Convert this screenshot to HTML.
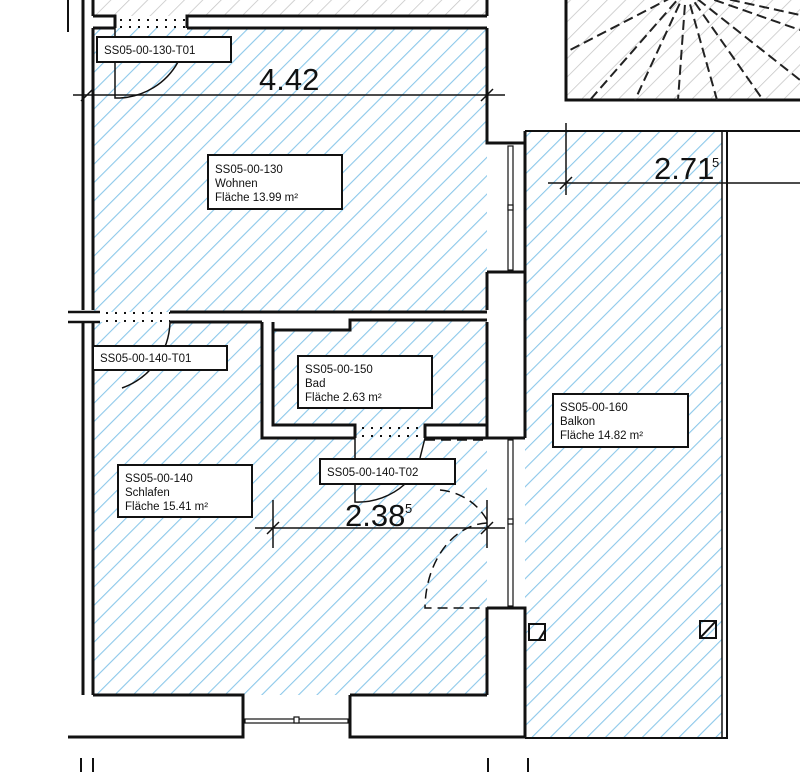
<!DOCTYPE html>
<html><head><meta charset="utf-8"><style>
html,body{margin:0;padding:0;background:#fff;}
svg{display:block;}
text{font-family:"Liberation Sans",sans-serif;fill:#111;}
</style></head><body>
<svg width="800" height="772" viewBox="0 0 800 772" xmlns="http://www.w3.org/2000/svg">
<defs>
<pattern id="h" width="13" height="13" patternUnits="userSpaceOnUse" patternTransform="rotate(45)">
<line x1="0" y1="0" x2="0" y2="13" stroke="#8cc8ea" stroke-width="2.2"/>
</pattern>
<pattern id="g" width="13" height="13" patternUnits="userSpaceOnUse" patternTransform="rotate(45)">
<line x1="0" y1="0" x2="0" y2="13" stroke="#c4c4c4" stroke-width="1.5"/>
</pattern>
</defs>
<rect x="93" y="0" width="394" height="16" fill="url(#g)"/>
<rect x="566" y="0" width="234" height="100" fill="url(#g)"/>
<rect x="93" y="28" width="394" height="284" fill="url(#h)"/>
<rect x="93" y="322" width="394" height="373" fill="url(#h)"/>
<rect x="525" y="131" width="197" height="607" fill="url(#h)"/>
<rect x="487" y="272" width="38" height="166" fill="#fff"/>
<rect x="487" y="608" width="38" height="130" fill="#fff"/>
<rect x="487" y="143" width="38" height="129" fill="#fff"/>
<rect x="487" y="438" width="38" height="170" fill="#fff"/>
<rect x="68" y="695" width="420" height="43" fill="#fff"/>
<path d="M262 318 H487 V438 H262 Z" fill="#fff"/>
<path d="M273 330 H350 V320 H487 V425 H273 Z" fill="url(#h)"/>
<rect x="355" y="425" width="70" height="13" fill="url(#h)"/>
<g fill="none" stroke="#111" stroke-width="3">
<path d="M93 16 H115 V28 M187 28 V16 H487"/>
<path d="M93 0 V16 M487 0 V16"/>
<path d="M93 28 H115 M187 28 H487"/>
<path d="M83 0 V310 M93 28 V310"/>
<path d="M83 322 V695 M93 322 V695" />
<path d="M68 0 V32" stroke-width="2"/>
<path d="M68 312 H100 M68 322 H100" stroke-width="2.5"/>
<path d="M487 28 V143 H525 M487 272 H525"/>
<path d="M487 272 V310"/>
<path d="M170 312 H487 M170 322 H262"/>
<path d="M262 322 V438 H355 M425 438 H487"/>
<path d="M273 322 V425 H355 V438 M425 438 V425 H487 M273 330 H350 V320 H487"/>
<path d="M487 322 V438"/>
<path d="M525 131 V438 M487 438 H525"/>
<path d="M487 608 H525 V738 M487 608 V695"/>
<path d="M93 695 H243 V737 H68 M350 695 V737 H525 M350 695 H487"/>
<path d="M525 131 H800 M525 738 H727 V131" stroke-width="2"/>
<path d="M722 131 V738" stroke-width="1.5"/>
<path d="M566 0 V100 H800"/>
</g>
<g stroke="#111" stroke-width="1.2" fill="none">
<rect x="508" y="146" width="5" height="124"/>
<rect x="508" y="440" width="5" height="166"/>
<rect x="245" y="719" width="103" height="4"/>
<rect x="508" y="205" width="5" height="5" fill="#fff"/>
<rect x="508" y="519" width="5" height="5" fill="#fff"/>
<rect x="294" y="717" width="5" height="6" fill="#fff"/>
</g>
<g stroke="#111" stroke-width="2" stroke-dasharray="2 7">
<path d="M120 20 H185 M120 27 H185"/>
<path d="M106 313 H170 M106 321 H170"/>
<path d="M362 428 H425 M362 436 H425"/>
</g>
<g fill="none" stroke="#111" stroke-width="1.5">
<path d="M115 28 V98 H120 A70 70 0 0 0 178 62"/>
<path d="M170 322 A72 72 0 0 1 122 388"/>
<path d="M355 438 V502 A70 70 0 0 0 405 484"/>
<path d="M425 438 L420 458"/>
</g>
<g fill="none" stroke="#111" stroke-width="1.5" stroke-dasharray="10 6">
<path d="M425 440 H487"/>
<path d="M487 523 A64 86 0 0 0 425 608 H487"/>
<path d="M440 490 A60 60 0 0 1 487 520"/>
</g>
<g fill="none" stroke="#222" stroke-width="2" stroke-dasharray="10 5">
<path d="M686 -10 L570 50 M686 -10 L590 100 M686 -10 L635 100 M686 -10 L678 100 M686 -10 L717 100 M686 -10 L763 100 M686 -10 L800 80 M686 -10 L800 30 M686 -10 L800 15"/>
</g>
<g stroke="#111" stroke-width="1.5">
<path d="M73 95 H505"/>
<path d="M81 101 L93 89 M481 101 L493 89"/>
<path d="M548 183 H800 M566 123 V195 M560 189 L572 177"/>
<path d="M255 528 H505 M273 500 V548 M487 500 V548 M267 534 L279 522 M481 534 L493 522"/>
</g>
<text x="259" y="90" font-size="31">4.42</text>
<text x="654" y="179" font-size="31">2.71</text><text x="712" y="167" font-size="13">5</text>
<text x="345" y="526" font-size="31">2.38</text><text x="405" y="513" font-size="13">5</text>
<g fill="#fff" stroke="#111" stroke-width="2">
<rect x="97" y="37" width="134" height="25"/>
<rect x="208" y="155" width="134" height="54"/>
<rect x="93" y="346" width="134" height="24"/>
<rect x="298" y="356" width="134" height="52"/>
<rect x="320" y="459" width="135" height="25"/>
<rect x="118" y="465" width="134" height="52"/>
<rect x="553" y="394" width="135" height="53"/>
</g>
<g font-size="11.5">
<text x="104" y="54">SS05-00-130-T01</text>
<text x="215" y="173">SS05-00-130</text>
<text x="215" y="187">Wohnen</text>
<text x="215" y="201">Fläche 13.99 m²</text>
<text x="100" y="362">SS05-00-140-T01</text>
<text x="305" y="373">SS05-00-150</text>
<text x="305" y="387">Bad</text>
<text x="305" y="401">Fläche 2.63 m²</text>
<text x="327" y="476">SS05-00-140-T02</text>
<text x="125" y="482">SS05-00-140</text>
<text x="125" y="496">Schlafen</text>
<text x="125" y="510">Fläche 15.41 m²</text>
<text x="560" y="411">SS05-00-160</text>
<text x="560" y="425">Balkon</text>
<text x="560" y="439">Fläche 14.82 m²</text>
</g>
<g fill="none" stroke="#111" stroke-width="2">
<rect x="529" y="624" width="16" height="16"/>
<path d="M539 640 L545 630"/>
<rect x="700" y="621" width="16" height="17"/>
<path d="M700 638 L716 621"/>
</g>
<g stroke="#111" stroke-width="2">
<path d="M81 758 V772 M93 758 V772 M488 758 V772 M528 758 V772"/>
</g>
</svg>
</body></html>
